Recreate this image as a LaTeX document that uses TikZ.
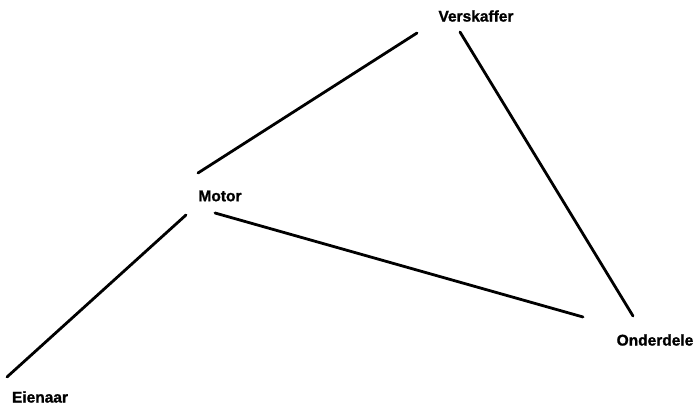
\documentclass[tikz,border=0pt]{standalone}
\usepackage{fontspec}
\setmainfont{Liberation Sans}
\newfontfamily\heavyfont{Liberation Sans Bold}[FakeBold=1.2]
\usepackage{tikz}
\usetikzlibrary{positioning, calc}

\begin{document}
\begin{tikzpicture}[x=1pt,y=1pt,
 every node/.style={font=\fontsize{15.5}{17}\selectfont\heavyfont,inner sep=0pt},
 ent/.style={text=black},
 link/.style={draw=black,line width=2.8pt,line cap=round}]
\useasboundingbox (0,0) rectangle (694,411);
% entities
\node[ent] (vers) at (476,395) {Verskaffer};
\node[ent] (mot) at (220,215) {Motor};
\node[ent] (ond) at (655,71) {Onderdele};
\node[ent] (eien) at (40,14) {Eienaar};
% relations
\draw[link] ([shift={(-59,-17)}]vers.center) -- ([shift={(-22,23)}]mot.center);
\draw[link] ([shift={(-16,-16)}]vers.center) -- ([shift={(-22,24)}]ond.center);
\draw[link] ([shift={(-5,-17)}]mot.center) -- ([shift={(-72,23)}]ond.center);
\draw[link] ([shift={(-34,-19)}]mot.center) -- ([shift={(-33,20)}]eien.center);
\end{tikzpicture}
\end{document}
